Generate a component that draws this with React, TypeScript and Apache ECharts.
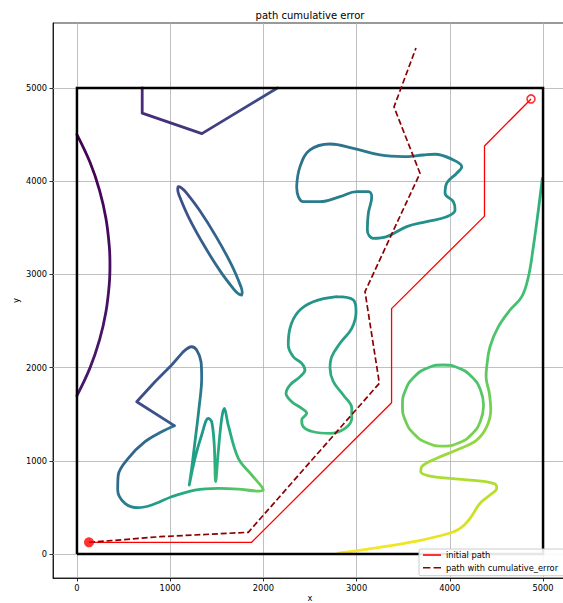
import React, { useEffect, useRef } from "react";
import * as echarts from "echarts";

// ---- data ----
const xTicks = [0, 1000, 2000, 3000, 4000, 5000];
const yTicks = [0, 1000, 2000, 3000, 4000, 5000];

const squarePts = [[0, 0], [5000, 0], [5000, 5000], [0, 5000], [0, 0]];

const arcPts = [
  [0, 4500], [141, 4200], [243, 3900], [311, 3600], [347, 3300], [354, 3100],
  [347, 2900], [311, 2600], [243, 2300], [141, 2000], [0, 1700],
];

const polyPts = [[700, 5000], [700, 4730], [1340, 4510], [2150, 5000]];

const ellipsePts = [
  [1767, 2779], [1773, 2809], [1756, 2877], [1657, 3105], [1496, 3400], [1317, 3685],
  [1168, 3883], [1117, 3932], [1087, 3941], [1081, 3910], [1098, 3843], [1197, 3615],
  [1358, 3320], [1537, 3035], [1686, 2837], [1737, 2788], [1767, 2779],
];

const blobTopPts = [
  [2357, 3941], [2393, 4156], [2500, 4335], [2715, 4399], [2965, 4353], [3252, 4281],
  [3501, 4263], [3716, 4281], [3841, 4289], [4038, 4228], [4128, 4156], [4074, 4085],
  [3967, 3978], [3949, 3870], [4038, 3780], [4056, 3691], [3967, 3619], [3752, 3566],
  [3538, 3512], [3323, 3405], [3179, 3387], [3115, 3477], [3126, 3656], [3162, 3834],
  [3126, 3888], [3001, 3888], [2822, 3834], [2607, 3780], [2428, 3780], [2375, 3834],
  [2357, 3941],
];

const blobMidPts = [
  [2787, 2761], [2965, 2725], [2994, 2600], [2948, 2422], [2822, 2261], [2733, 2117],
  [2715, 1993], [2750, 1849], [2857, 1706], [2948, 1563], [2948, 1456], [2876, 1349],
  [2715, 1295], [2535, 1312], [2428, 1366], [2411, 1438], [2465, 1510], [2411, 1563],
  [2304, 1634], [2243, 1724], [2285, 1813], [2393, 1902], [2446, 1974], [2411, 2046],
  [2321, 2117], [2267, 2243], [2285, 2422], [2375, 2600], [2535, 2707], [2787, 2761],
];

const blobLowPts = [
  [1141, 2171], [1231, 2224], [1284, 2189], [1331, 2063], [1338, 1885], [1309, 1563],
  [1266, 1205], [1231, 920], [1205, 740], [1266, 1027], [1338, 1277], [1409, 1456],
  [1445, 1420], [1473, 1170], [1488, 776], [1516, 1098], [1553, 1456], [1581, 1563],
  [1623, 1384], [1731, 1027], [1875, 848], [1982, 722], [1999, 687], [1945, 676],
  [1731, 697], [1516, 705], [1266, 687], [1016, 615], [802, 526], [658, 497],
  [515, 544], [437, 687], [443, 848], [550, 1027], [730, 1205], [909, 1312], [1044, 1377],
];
const blobLowSharpPts = [[1044, 1377], [641, 1634], [837, 1849], [1016, 2028], [1141, 2171]];

const circlePts = [
  [4362, 1593], [4329, 1759], [4235, 1901], [4093, 1995], [3927, 2028], [3761, 1995],
  [3619, 1901], [3525, 1759], [3492, 1593], [3525, 1427], [3619, 1285], [3761, 1191],
  [3927, 1158], [4093, 1191], [4235, 1285], [4329, 1427], [4362, 1593],
];

const rightCurvePts = [
  [4993, 4031], [4950, 3691], [4896, 3297], [4843, 2975], [4772, 2761], [4646, 2618],
  [4521, 2439], [4431, 2224], [4396, 2010], [4389, 1902], [4424, 1724], [4439, 1545],
  [4396, 1366], [4289, 1223], [4074, 1116], [3860, 1027], [3699, 937], [3688, 883],
  [3788, 837], [4002, 812], [4289, 787], [4485, 751], [4503, 705], [4431, 633],
  [4324, 544], [4217, 383], [4110, 276], [3967, 215], [3609, 132], [3251, 72], [2800, 10],
];

const initialPath = [
  [129, 126], [1874, 126], [3375, 1623], [3375, 2633], [4372, 3625], [4372, 4378], [4871, 4882],
];
const cumulativePath = [
  [129, 126], [354, 143], [890, 186], [1838, 233], [3244, 1832], [3090, 2815],
  [3680, 4085], [3401, 4796], [3637, 5429],
];
const startPoint = [129, 126];
const endPoint = [4871, 4882];

// ---- styling helpers ----
const FONT = "DejaVu Sans";
const VIRIDIS = [
  "#440154", "#471365", "#482475", "#463480", "#414487", "#3b528b", "#355f8d",
  "#306a8e", "#2a788e", "#25848e", "#21918c", "#1e9c89", "#22a884", "#2fb47c",
  "#44bf70", "#5ec962", "#7ad151", "#9bd93c", "#bddf26", "#dfe318", "#fde725",
];
function hexToRgb(h: string) {
  return [parseInt(h.slice(1, 3), 16), parseInt(h.slice(3, 5), 16), parseInt(h.slice(5, 7), 16)];
}
function viridis(t: number) {
  const v = Math.max(0, Math.min(1, t)) * 20;
  const i = Math.min(19, Math.floor(v));
  const f = v - i;
  const a = hexToRgb(VIRIDIS[i]);
  const b = hexToRgb(VIRIDIS[i + 1]);
  const c = a.map((x, k) => Math.round(x + (b[k] - x) * f));
  return `rgb(${c[0]},${c[1]},${c[2]})`;
}
function grad(x0: number, y0: number, x1: number, y1: number, stops: number[][]) {
  return new echarts.graphic.LinearGradient(
    x0, y0, x1, y1,
    stops.map(([o, t]) => ({ offset: o, color: viridis(t) }))
  );
}
function obstacle(data: number[][], color: any, smooth: number | boolean) {
  return {
    type: "line",
    data,
    smooth,
    symbol: "none",
    silent: true,
    z: 3,
    lineStyle: { width: 2.8, color, cap: "round", join: "round" },
  };
}

export default function App() {
  const ref = useRef<HTMLDivElement>(null);
  useEffect(() => {
    if (!ref.current) return;
    const chart = echarts.init(ref.current, undefined, { renderer: "svg" });
    const gridLines = [
      ...xTicks.map((v) => ({ xAxis: v })),
      ...yTicks.map((v) => ({ yAxis: v })),
    ];
    const axisCommon = {
      type: "value",
      nameLocation: "middle",
      nameMoveOverlap: false,
      nameTextStyle: { fontSize: 8.3, color: "#000", fontFamily: FONT, lineHeight: 9 },
      axisLine: { show: true, onZero: false, lineStyle: { color: "#000", width: 0.8 } },
      splitLine: { show: false },
    };
    const labelCommon = {
      fontSize: 8.3,
      color: "#000",
      margin: 6,
      fontFamily: FONT,
      formatter: (v: number) => String(v),
    };
    chart.setOption({
      animation: false,
      title: {
        text: "path cumulative error",
        left: 310,
        top: 10,
        padding: 0,
        textAlign: "center",
        textStyle: { fontSize: 10, fontWeight: "normal", color: "#000", fontFamily: FONT },
      },
      grid: {
        left: 53,
        top: 23,
        width: 514,
        height: 555,
        show: true,
        borderColor: "#000",
        borderWidth: 0.8,
        containLabel: false,
        outerBoundsMode: "none",
      },
      xAxis: {
        ...axisCommon,
        min: -257,
        max: 5257,
        name: "x",
        nameGap: 15,
        axisTick: { show: true, customValues: xTicks, length: 3.5, lineStyle: { color: "#000", width: 0.8 } },
        axisLabel: { ...labelCommon, customValues: xTicks },
      },
      yAxis: {
        ...axisCommon,
        min: -257,
        max: 5697,
        name: "y",
        nameGap: 33,
        axisTick: { show: true, customValues: yTicks, length: 3.5, lineStyle: { color: "#000", width: 0.8 } },
        axisLabel: { ...labelCommon, customValues: yTicks },
      },
      legend: {
        data: [
          { name: "initial path", icon: "rect" },
          { name: "path with cumulative_error", icon: "path://M0 0H6.5V1H0ZM9.3 0H15.8V1H9.3Z" },
        ],
        orient: "vertical",
        left: 419,
        top: 549,
        z: 20,
        itemWidth: 18,
        itemHeight: 1.6,
        itemGap: 2.7,
        symbolKeepAspect: false,
        padding: [1, 6, 3, 4],
        backgroundColor: "rgba(255,255,255,0.9)",
        borderColor: "#cccccc",
        borderWidth: 1,
        borderRadius: 2,
        selectedMode: false,
        textStyle: { fontSize: 8.3, color: "#000", fontFamily: FONT, lineHeight: 10 },
      },
      series: [
        {
          type: "line",
          name: "square",
          data: squarePts,
          symbol: "none",
          silent: true,
          z: 4,
          lineStyle: { width: 2.5, color: "#000", join: "miter" },
          markLine: {
            silent: true,
            z: 1,
            symbol: ["none", "none"],
            label: { show: false },
            lineStyle: { color: "#b0b0b0", width: 0.8, type: "solid" },
            emphasis: { disabled: true },
            data: gridLines,
          },
        },
        obstacle(arcPts, grad(0, 0, 0, 1, [[0, 0.0], [1, 0.07]]), 0.4),
        obstacle(polyPts, grad(0, 0, 1, 0, [[0, 0.12], [1, 0.24]]), false),
        obstacle(ellipsePts, grad(0, 0, 1, 1, [[0, 0.22], [1, 0.4]]), 0.4),
        obstacle(blobTopPts, grad(0, 0, 1, 1, [[0, 0.36], [1, 0.53]]), 0.4),
        obstacle(blobMidPts, grad(0, 0, 0, 1, [[0, 0.5], [1, 0.68]]), 0.4),
        obstacle(
          blobLowPts,
          grad(0, 0, 1, 0.8, [[0, 0.2], [0.25, 0.24], [0.45, 0.38], [0.62, 0.54], [0.75, 0.62], [1, 0.76]]),
          0.35
        ),
        obstacle(blobLowSharpPts, grad(0, 0, 1, 0, [[0, 0.22], [1, 0.3]]), false),
        obstacle(circlePts, grad(0, 0, 0, 1, [[0, 0.7], [1, 0.81]]), 0.5),
        obstacle(
          rightCurvePts,
          grad(0, 0, 0, 1, [[0, 0.62], [0.32, 0.7], [0.5, 0.74], [0.62, 0.8], [0.73, 0.85], [0.81, 0.88], [0.91, 0.93], [1, 1]]),
          0.4
        ),
        {
          type: "line",
          name: "initial path",
          data: initialPath,
          symbol: "none",
          z: 5,
          color: "#ff0000",
          lineStyle: { width: 1.3, color: "#ff0000" },
        },
        {
          type: "line",
          name: "path with cumulative_error",
          data: cumulativePath,
          symbol: "none",
          z: 5,
          color: "#8b0000",
          lineStyle: { width: 1.7, color: "#8b0000", type: [6, 2.8] },
        },
        {
          type: "scatter",
          name: "start",
          data: [startPoint],
          symbol: "circle",
          symbolSize: 10,
          z: 6,
          itemStyle: { color: "#ff0000" },
        },
        {
          type: "scatter",
          name: "end",
          data: [endPoint],
          symbol: "circle",
          symbolSize: 8,
          z: 6,
          itemStyle: { color: "rgba(255,255,255,0)", borderColor: "#ff0000", borderWidth: 1.6 },
        },
      ],
    });
    return () => chart.dispose();
  }, []);
  return (
    <div
      ref={ref}
      style={{ position: "absolute", left: 0, top: 0, width: 563, height: 603, background: "#fff" }}
    />
  );
}
